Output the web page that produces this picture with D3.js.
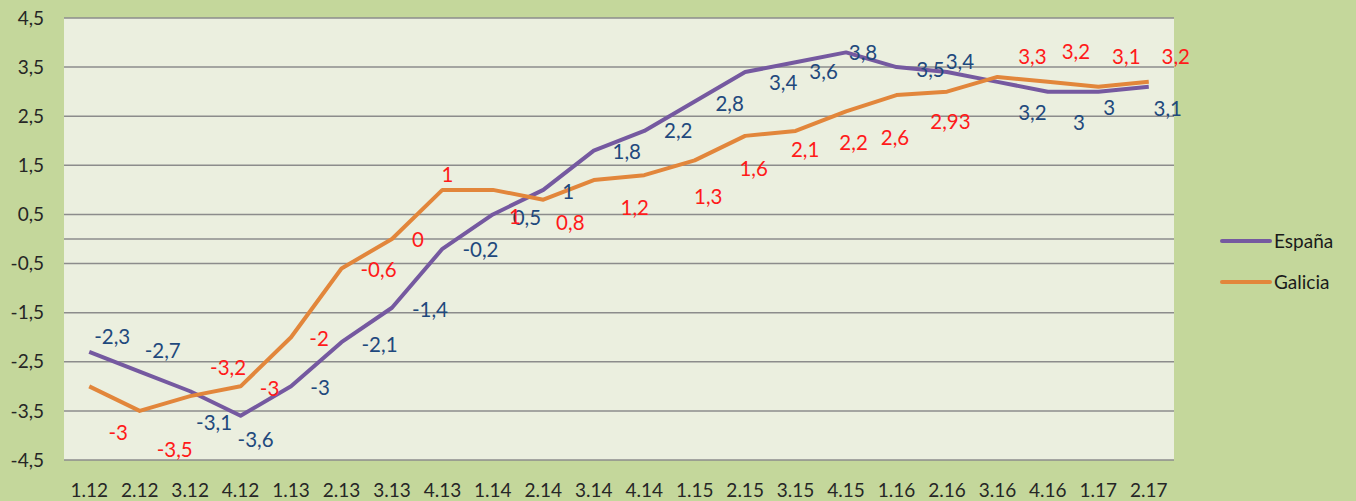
<!DOCTYPE html>
<html>
<head>
<meta charset="utf-8">
<script src="https://cdn.jsdelivr.net/npm/d3@7"></script>
<style>
  body { margin: 0; background: #c4d79b; }
  text { font-family: Lato, "Liberation Sans", sans-serif; }
</style>
</head>
<body>
<script>
let width = 1356;
let height = 501;

// quarters
let categories = ["1.12","2.12","3.12","4.12","1.13","2.13","3.13","4.13","1.14","2.14","3.14",
                  "4.14","1.15","2.15","3.15","4.15","1.16","2.16","3.16","4.16","1.17","2.17"];
let espana = [-2.3,-2.7,-3.1,-3.6,-3,-2.1,-1.4,-0.2,0.5,1,1.8,2.2,2.8,3.4,3.6,3.8,3.5,3.4,3.2,3,3,3.1];
let galicia = [-3,-3.5,-3.2,-3,-2,-0.6,0,1,1,0.8,1.2,1.3,1.6,2.1,2.2,2.6,2.93,3,3.3,3.2,3.1,3.2];
// data label texts as shown (one galicia label missing)
let espanaLabels = ["-2,3","-2,7","-3,1","-3,6","-3","-2,1","-1,4","-0,2","0,5","1","1,8","2,2",
                    "2,8","3,4","3,6","3,8","3,5","3,4","3,2","3","3","3,1"];
let galiciaLabels = ["-3","-3,5","-3,2","-3","-2","-0,6","0","1","1","0,8","1,2","1,3",
                     "1,6","2,1","2,2","2,6","2,93",null,"3,3","3,2","3,1","3,2"];
let yTicks = [-4.5,-3.5,-2.5,-1.5,-0.5,0.5,1.5,2.5,3.5,4.5];

// label nudges (pixels, relative to the point)
let espanaDx = [23,23,24,15,29,38,38,38,34,25,33,34,35,38,28,17,34,13,35,31,11,19];
let espanaDy = [-15,-21,32,24,1,3,2,1,3,2,1,0,2,11,10,0,3,-10,31,31,16,22];
let galiciaDx = [29,35,38,29,28,37,26,5,22,27,41,64,59,60,58,49,54,0,35,28,28,27];
let galiciaDy = [46,39,-28,2,2,1,1,-15,27,23,28,22,8,14,12,27,27,0,-20,-30,-30,-25];

let series = [
  { name: "España", values: espana, labels: espanaLabels, dx: espanaDx, dy: espanaDy,
    color: "#7559a0", labelColor: "#1f497d" },
  { name: "Galicia", values: galicia, labels: galiciaLabels, dx: galiciaDx, dy: galiciaDy,
    color: "#e2863b", labelColor: "#ff1a1a" }
];

let svg = d3.select("body")
            .append("svg")
            .attr("width", width)
            .attr("height", height);

let x = d3.scaleBand().domain(categories).range([64, 1174]);
let y = d3.scaleLinear().domain([-4.5, 4.5]).range([460, 18]);
let cx = function(c) { return x(c) + x.bandwidth() / 2; };

// plot area
svg.append("rect")
   .attr("x", 64).attr("y", 18)
   .attr("width", 1110).attr("height", 442)
   .attr("fill", "#ebefdf");

// grid (plus the category axis line at 0)
svg.append("g")
   .selectAll("line")
   .data(yTicks.concat([0]))
   .enter()
   .append("line")
   .attr("x1", 64).attr("x2", 1174)
   .attr("y1", function(d) { return y(d); })
   .attr("y2", function(d) { return y(d); })
   .attr("stroke", "#8c8c8c")
   .attr("stroke-width", 1.5);

// y labels
svg.append("g")
   .selectAll("text")
   .data(yTicks)
   .enter()
   .append("text")
   .attr("x", 44)
   .attr("y", function(d) { return y(d); })
   .attr("dy", "0.35em")
   .attr("text-anchor", "end")
   .attr("font-size", 19)
   .attr("fill", "#262626")
   .text(function(d) { return String(d).replace(".", ","); });

// x labels
svg.append("g")
   .selectAll("text")
   .data(categories)
   .enter()
   .append("text")
   .attr("x", function(d) { return cx(d); })
   .attr("y", 497)
   .attr("text-anchor", "middle")
   .attr("font-size", 19)
   .attr("fill", "#262626")
   .text(function(d) { return d; });

let line = d3.line()
             .x(function(d, i) { return cx(categories[i]); })
             .y(function(d) { return y(d); });

series.forEach(function(s) {
  svg.append("path")
     .attr("d", line(s.values))
     .attr("fill", "none")
     .attr("stroke", s.color)
     .attr("stroke-width", 4)
     .attr("stroke-linejoin", "round");
});

// data labels
series.forEach(function(s) {
  let idx = d3.range(s.values.length).filter(function(i) { return s.labels[i] != null; });
  svg.append("g")
     .selectAll("text")
     .data(idx)
     .enter()
     .append("text")
     .attr("x", function(i) { return cx(categories[i]) + s.dx[i]; })
     .attr("y", function(i) { return y(s.values[i]) + s.dy[i]; })
     .attr("dy", "0.35em")
     .attr("text-anchor", "middle")
     .attr("font-size", 20.5)
     .attr("fill", s.labelColor)
     .text(function(i) { return s.labels[i]; });
});

// legend
let leg = svg.append("g")
             .selectAll("g")
             .data(series)
             .enter()
             .append("g")
             .attr("transform", function(d, i) { return "translate(1222, " + (241 + i * 41) + ")"; });

leg.append("line")
   .attr("x1", 0).attr("x2", 48)
   .attr("stroke", function(d) { return d.color; })
   .attr("stroke-width", 4)
   .attr("stroke-linecap", "round");

leg.append("text")
   .attr("x", 52)
   .attr("dy", "0.35em")
   .attr("font-size", 19)
   .attr("fill", "#1a1a1a")
   .text(function(d) { return d.name; });
</script>
</body>
</html>
